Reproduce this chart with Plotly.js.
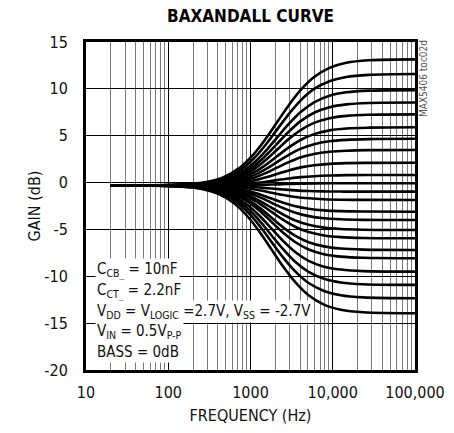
<!DOCTYPE html>
<html>
<head>
<meta charset="utf-8">
<script src="https://cdn.plot.ly/plotly-3.0.1.min.js"></script>
<style>
html,body{margin:0;padding:0;background:#fff;}
#chart{width:454px;height:433px;}
</style>
</head>
<body>
<div id="chart"></div>
<script>
// Frequency (Hz) sample points
const freqBoost = [20, 228, 457, 730, 1096, 1552, 2100, 2921, 4110, 5935, 9131, 14610, 27384, 100000];
const freqCut   = [20, 196, 391, 626, 939, 1330, 1800, 2504, 3522, 5087, 7826, 12522, 23478, 100000];

// Gain (dB) of the treble-boost curves
const boostCurves = [
  [-0.30, -0.08, 0.53, 1.55, 3.04, 4.75, 6.43, 8.26, 9.91, 11.26, 12.24, 12.78, 13.05, 13.15],
  [-0.30, -0.12, 0.39, 1.26, 2.57, 4.11, 5.65, 7.31, 8.80, 9.99, 10.82, 11.27, 11.49, 11.58],
  [-0.30, -0.15, 0.25, 0.97, 2.09, 3.43, 4.79, 6.26, 7.56, 8.57, 9.27, 9.63, 9.81, 9.87],
  [-0.30, -0.18, 0.16, 0.77, 1.73, 2.92, 4.13, 5.43, 6.58, 7.45, 8.04, 8.34, 8.49, 8.54],
  [-0.30, -0.20, 0.08, 0.59, 1.41, 2.44, 3.50, 4.64, 5.63, 6.37, 6.87, 7.12, 7.24, 7.28],
  [-0.30, -0.22, 0.00, 0.41, 1.08, 1.92, 2.80, 3.75, 4.57, 5.17, 5.57, 5.77, 5.86, 5.90],
  [-0.30, -0.24, -0.07, 0.26, 0.79, 1.47, 2.19, 2.96, 3.62, 4.10, 4.41, 4.56, 4.64, 4.67],
  [-0.30, -0.25, -0.13, 0.12, 0.52, 1.04, 1.59, 2.18, 2.69, 3.05, 3.28, 3.40, 3.46, 3.48],
  [-0.30, -0.27, -0.19, -0.04, 0.22, 0.56, 0.91, 1.29, 1.62, 1.85, 2.00, 2.07, 2.10, 2.12],
  [-0.30, -0.29, -0.25, -0.18, -0.06, 0.09, 0.26, 0.43, 0.58, 0.68, 0.75, 0.79, 0.80, 0.81],
  [-0.30, -0.30, -0.29, -0.28, -0.25, -0.22, -0.19, -0.15, -0.12, -0.10, -0.08, -0.08, -0.07, -0.07]
];

// Gain (dB) of the treble-cut curves
const cutCurves = [
  [-0.30, -0.31, -0.33, -0.37, -0.44, -0.54, -0.64, -0.74, -0.83, -0.90, -0.94, -0.96, -0.97, -0.97],
  [-0.30, -0.32, -0.37, -0.47, -0.63, -0.85, -1.08, -1.33, -1.54, -1.68, -1.78, -1.83, -1.85, -1.86],
  [-0.30, -0.33, -0.43, -0.61, -0.91, -1.30, -1.71, -2.15, -2.52, -2.79, -2.97, -3.05, -3.09, -3.11],
  [-0.30, -0.34, -0.47, -0.71, -1.10, -1.61, -2.15, -2.73, -3.22, -3.58, -3.81, -3.92, -3.98, -4.00],
  [-0.30, -0.36, -0.52, -0.83, -1.34, -2.00, -2.68, -3.42, -4.05, -4.51, -4.81, -4.96, -5.03, -5.06],
  [-0.30, -0.37, -0.57, -0.94, -1.54, -2.32, -3.12, -3.99, -4.74, -5.28, -5.64, -5.82, -5.91, -5.94],
  [-0.30, -0.39, -0.64, -1.10, -1.84, -2.78, -3.75, -4.80, -5.70, -6.37, -6.81, -7.04, -7.15, -7.19],
  [-0.30, -0.40, -0.69, -1.22, -2.06, -3.11, -4.19, -5.36, -6.37, -7.14, -7.64, -7.90, -8.03, -8.07],
  [-0.30, -0.43, -0.79, -1.44, -2.44, -3.67, -4.91, -6.25, -7.43, -8.35, -8.97, -9.28, -9.45, -9.50],
  [-0.30, -0.46, -0.90, -1.66, -2.83, -4.22, -5.62, -7.14, -8.48, -9.53, -10.27, -10.66, -10.85, -10.92],
  [-0.30, -0.49, -1.00, -1.89, -3.21, -4.77, -6.33, -8.01, -9.51, -10.72, -11.56, -12.02, -12.25, -12.34],
  [-0.30, -0.53, -1.15, -2.19, -3.70, -5.43, -7.13, -8.98, -10.65, -12.02, -13.02, -13.56, -13.84, -13.94]
];

const xTickVals = [10, 100, 1000, 10000, 100000];
const xTickText = ['10', '100', '1000', '10,000', '100,000'];
const yTickVals = [-20, -15, -10, -5, 0, 5, 10, 15];
const yTickText = ['-20', '-15', '-10', '-5', '0', '5', '10', '15'];

const noteLines = [
  'C<sub>CB_</sub> = 10nF',
  'C<sub>CT_</sub> = 2.2nF',
  'V<sub>DD</sub> = V<sub>LOGIC</sub> =2.7V, V<sub>SS</sub> = -2.7V',
  'V<sub>IN</sub> = 0.5V<sub>P-P</sub>',
  'BASS = 0dB'
];

const FONT = '"DejaVu Sans Condensed", "DejaVu Sans", sans-serif';

const traces = [];
function addCurves(freq, curves) {
  curves.forEach(function (g) {
    traces.push({
      x: freq, y: g, type: 'scatter', mode: 'lines',
      line: {color: '#000', width: 2.6, shape: 'spline', smoothing: 1},
      hoverinfo: 'skip', showlegend: false
    });
  });
}
addCurves(freqBoost, boostCurves);
addCurves(freqCut, cutCurves);

const noteY = [0.305, 0.241, 0.178, 0.116, 0.055];
const annotations = noteLines.map(function (t, i) {
  return {
    text: t, xref: 'paper', yref: 'paper', x: 0.027, y: noteY[i],
    xanchor: 'left', yanchor: 'middle', showarrow: false,
    bgcolor: '#fff', borderpad: 1,
    font: {family: FONT, size: 15, color: '#111'}
  };
});
annotations.push({
  text: 'MAX5406 toc02d', xref: 'paper', yref: 'paper', x: 1.024, y: 0.89,
  xanchor: 'center', yanchor: 'middle', textangle: -90, showarrow: false,
  font: {family: FONT, size: 10, color: '#555'}
});

const layout = {
  width: 454, height: 433,
  margin: {l: 86, r: 39, t: 42, b: 63},
  paper_bgcolor: '#fff', plot_bgcolor: '#fff',
  title: {
    text: '<b>BAXANDALL CURVE</b>',
    font: {family: FONT, size: 17, color: '#000'},
    x: 0.5, xref: 'paper', y: 0.963, yref: 'container', yanchor: 'middle'
  },
  xaxis: {
    type: 'log', range: [1, 5],
    tickmode: 'array', tickvals: xTickVals, ticktext: xTickText,
    ticks: 'outside', ticklen: 6, tickcolor: 'rgba(0,0,0,0)',
    tickfont: {family: FONT, size: 16, color: '#111'},
    showgrid: true, gridcolor: '#000', gridwidth: 1,
    minor: {dtick: 'D1', showgrid: true, gridcolor: '#7a7a7a', gridwidth: 1, ticks: ''},
    showline: true, linecolor: '#000', linewidth: 3, mirror: true,
    zeroline: false,
    title: {text: 'FREQUENCY (Hz)', font: {family: FONT, size: 16, color: '#111'}, standoff: 9},
    fixedrange: true
  },
  yaxis: {
    range: [-20, 15], tickmode: 'array', tickvals: yTickVals, ticktext: yTickText,
    ticks: 'outside', ticklen: 12, tickcolor: 'rgba(0,0,0,0)',
    tickfont: {family: FONT, size: 16, color: '#111'},
    showgrid: true, gridcolor: '#000', gridwidth: 1,
    showline: true, linecolor: '#000', linewidth: 3, mirror: true,
    zeroline: false,
    title: {text: 'GAIN (dB)', font: {family: FONT, size: 16, color: '#111'}, standoff: 0},
    fixedrange: true
  },
  annotations: annotations,
  showlegend: false
};

Plotly.newPlot('chart', traces, layout, {staticPlot: true, displayModeBar: false});
</script>
</body>
</html>
